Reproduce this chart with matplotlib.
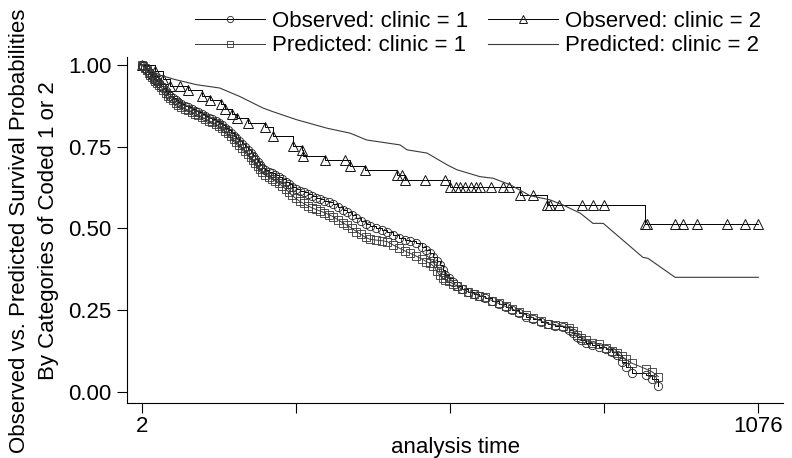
import matplotlib
matplotlib.use("Agg")
import matplotlib.pyplot as plt

plt.rcParams['font.family'] = ['Liberation Sans', 'DejaVu Sans']

# observed KM, clinic 1
obs1_t = [2, 5, 8, 11, 14, 17, 20, 23, 26, 29, 32, 36, 40, 44, 48, 52, 56, 61, 66, 71,
          77, 83, 89, 95, 101, 107, 113, 119, 125, 131, 137, 142, 147, 152, 157, 162, 167,
          172, 177, 182, 187, 192, 196, 200, 204, 208, 212, 217, 223, 229, 235, 241, 247,
          253, 258, 263, 270, 277, 284, 291, 298, 305, 312, 320, 328, 336, 344, 352, 360,
          368, 376, 384, 392, 400, 410, 420, 430, 440, 450, 460, 470, 480, 490, 498, 504,
          510, 516, 521, 526, 531, 537, 544, 552, 560, 570, 580, 590, 600, 612, 624, 636,
          647, 660, 672, 684, 697, 710, 722, 736, 746, 754, 761, 768, 776, 786, 798, 810,
          821, 830, 838, 845, 856, 880, 891, 902]
obs1_s = [1.000, 0.995, 0.990, 0.985, 0.978, 0.972, 0.966, 0.960, 0.955, 0.950, 0.944,
          0.936, 0.928, 0.920, 0.912, 0.905, 0.898, 0.892, 0.886, 0.881, 0.875, 0.870,
          0.865, 0.860, 0.855, 0.849, 0.843, 0.838, 0.833, 0.828, 0.823, 0.816, 0.808,
          0.800, 0.792, 0.783, 0.775, 0.767, 0.758, 0.749, 0.740, 0.731, 0.722, 0.713,
          0.704, 0.694, 0.684, 0.677, 0.672, 0.668, 0.664, 0.658, 0.651, 0.643, 0.634,
          0.626, 0.620, 0.615, 0.611, 0.605, 0.599, 0.594, 0.589, 0.584, 0.580, 0.575,
          0.566, 0.557, 0.550, 0.541, 0.531, 0.521, 0.512, 0.506, 0.500, 0.496, 0.488,
          0.479, 0.470, 0.465, 0.460, 0.454, 0.444, 0.433, 0.424, 0.413, 0.401, 0.388,
          0.372, 0.358, 0.347, 0.335, 0.324, 0.314, 0.305, 0.300, 0.294, 0.288, 0.277,
          0.268, 0.259, 0.250, 0.240, 0.230, 0.221, 0.213, 0.206, 0.202, 0.198, 0.190,
          0.180, 0.168, 0.157, 0.150, 0.143, 0.138, 0.130, 0.122, 0.112, 0.090, 0.075,
          0.056, 0.050, 0.038, 0.017]

# observed KM, clinic 2
obs2_t = [2, 25, 40, 51, 68, 82, 107, 121, 141, 147, 160, 168, 187, 216, 230, 265, 281,
          283, 321, 356, 365, 391, 447, 455, 460, 495, 530, 539, 549, 557, 565, 575, 585,
          591, 610, 631, 641, 661, 684, 708, 713, 729, 769, 788, 807, 879, 882, 931, 945,
          970, 1022, 1053, 1076]
obs2_s = [1.000, 0.980, 0.957, 0.936, 0.936, 0.923, 0.906, 0.893, 0.880, 0.865, 0.851,
          0.837, 0.821, 0.811, 0.781, 0.753, 0.738, 0.722, 0.709, 0.709, 0.690, 0.679,
          0.663, 0.663, 0.648, 0.648, 0.648, 0.626, 0.626, 0.626, 0.626, 0.626, 0.626,
          0.626, 0.626, 0.626, 0.626, 0.602, 0.602, 0.571, 0.571, 0.571, 0.571, 0.571,
          0.571, 0.513, 0.513, 0.513, 0.513, 0.513, 0.513, 0.513, 0.513]

# Cox predicted, clinic 1
pred1_t = obs1_t
pred1_s = [1.000, 0.995, 0.989, 0.983, 0.976, 0.970, 0.963, 0.957, 0.951, 0.945, 0.939,
           0.931, 0.922, 0.914, 0.906, 0.898, 0.891, 0.884, 0.878, 0.872, 0.866, 0.861,
           0.856, 0.851, 0.846, 0.840, 0.834, 0.829, 0.824, 0.818, 0.813, 0.806, 0.798,
           0.790, 0.781, 0.772, 0.763, 0.755, 0.746, 0.737, 0.727, 0.718, 0.709, 0.700,
           0.691, 0.681, 0.671, 0.663, 0.656, 0.650, 0.644, 0.637, 0.629, 0.620, 0.611,
           0.602, 0.592, 0.583, 0.576, 0.569, 0.563, 0.558, 0.553, 0.548, 0.542, 0.535,
           0.526, 0.517, 0.509, 0.500, 0.490, 0.481, 0.472, 0.466, 0.464, 0.462, 0.459,
           0.449, 0.440, 0.431, 0.423, 0.415, 0.406, 0.398, 0.393, 0.385, 0.370, 0.356,
           0.348, 0.343, 0.338, 0.330, 0.322, 0.314, 0.306, 0.300, 0.294, 0.289, 0.279,
           0.270, 0.261, 0.253, 0.244, 0.235, 0.226, 0.217, 0.208, 0.204, 0.201, 0.195,
           0.185, 0.175, 0.165, 0.157, 0.150, 0.146, 0.135, 0.125, 0.117, 0.108, 0.100,
           0.087, 0.070, 0.061, 0.046]

# Cox predicted, clinic 2
pred2_t = [2, 33, 60, 98, 138, 173, 213, 230, 272, 325, 365, 394, 452, 464, 499, 534, 551,
           591, 614, 644, 678, 713, 736, 766, 788, 806, 875, 884, 931, 945, 970, 1022,
           1053, 1076]
pred2_s = [1.000, 0.969, 0.955, 0.939, 0.929, 0.903, 0.868, 0.857, 0.832, 0.806, 0.791,
           0.770, 0.755, 0.740, 0.730, 0.694, 0.679, 0.658, 0.653, 0.633, 0.600, 0.587,
           0.571, 0.546, 0.515, 0.515, 0.411, 0.408, 0.350, 0.350, 0.350, 0.350, 0.350,
           0.350]

yticks = [0, 0.25, 0.5, 0.75, 1.0]
ytick_labels = ['0.00', '0.25', '0.50', '0.75', '1.00']
xticks = [2, 270.5, 539, 807.5, 1076]
xtick_labels = ['2', '', '', '', '1076']

fig = plt.figure(figsize=(7.92, 4.58), dpi=100)
ax = fig.add_axes([0.160, 0.120, 0.829, 0.756])

dark = 'black'
grey = '#3a3a3a'

l_o1, = ax.plot(obs1_t, obs1_s, drawstyle='steps-post', color=dark, lw=0.7,
                marker='o', ms=6, mfc='none', mec='#222222', mew=0.6)
l_o2, = ax.plot(obs2_t, obs2_s, drawstyle='steps-post', color=dark, lw=0.7,
                marker='^', ms=7, mfc='none', mec='#111111', mew=0.7)
l_p1, = ax.plot(pred1_t, pred1_s, color=grey, lw=0.7,
                marker='s', ms=6, mfc='none', mec='#333333', mew=0.6)
l_p2, = ax.plot(pred2_t, pred2_s, color=grey, lw=0.8)

ax.set_xlim(-24, 1119.5)
ax.set_ylim(-0.0346, 1.0245)
ax.set_xticks(xticks)
ax.set_xticklabels(xtick_labels)
ax.set_yticks(yticks)
ax.set_yticklabels(ytick_labels)
ax.tick_params(length=7.2, width=0.8, labelsize=16)
ax.tick_params(axis='x', pad=2)
ax.tick_params(axis='y', pad=4)
for s in ['top', 'right']:
    ax.spines[s].set_visible(False)
for s in ['left', 'bottom']:
    ax.spines[s].set_linewidth(0.8)

ax.set_xlabel('analysis time', fontsize=16, labelpad=0)
fig.text(34 / 792, 0.496,
         'Observed vs. Predicted Survival Probabilities\nBy Categories of Coded 1 or 2',
         rotation=90, ha='center', va='center', fontsize=16, linespacing=1.5,
         multialignment='center')

leg = fig.legend([l_o1, l_p1, l_o2, l_p2],
                 ['Observed: clinic = 1', 'Predicted: clinic = 1',
                  'Observed: clinic = 2', 'Predicted: clinic = 2'],
                 ncol=2, loc='upper left', bbox_to_anchor=(195 / 792, 1 - 11 / 458),
                 frameon=False, fontsize=16, handlelength=3.15, handletextpad=0.32,
                 columnspacing=0.9, labelspacing=0.15, borderpad=0, borderaxespad=0,
                 markerscale=0.75)

fig.savefig('out.png', dpi=100)
